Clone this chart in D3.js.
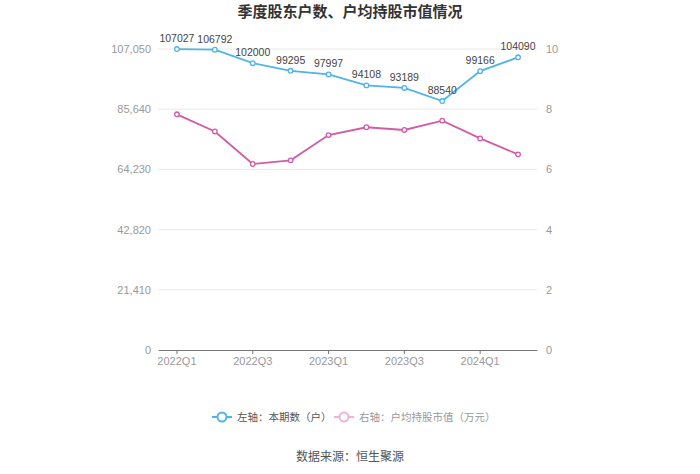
<!DOCTYPE html>
<meta charset="utf-8" />
<html>
<head>
    <style>
        body { margin: 0; background: #fff; font-family: "Microsoft YaHei", "Noto Sans CJK SC", sans-serif; }
        .grid line { stroke: #e9e9e9; }
        .tick text { fill: #999; font-size: 11px; font-family: "Liberation Sans", Arial, sans-serif; }
    </style>
</head>
<body>
    <svg width="700" height="474"></svg>
    <script src="https://d3js.org/d3.v7.min.js"></script>
    <script>
        // data
        var quarters = ["2022Q1", "2022Q2", "2022Q3", "2022Q4", "2023Q1", "2023Q2", "2023Q3", "2023Q4", "2024Q1", "2024Q2"];
        var holders = [107027, 106792, 102000, 99295, 97997, 94108, 93189, 88540, 99166, 104090];
        var avgValue = [7.83, 7.26, 6.18, 6.30, 7.14, 7.40, 7.31, 7.62, 7.03, 6.50];
        var leftTicks = [0, 21410, 42820, 64230, 85640, 107050];
        var rightTicks = [0, 2, 4, 6, 8, 10];
        var xLabels = ["2022Q1", "2022Q3", "2023Q1", "2023Q3", "2024Q1"];

        var blue = "#4fb4e8", pink = "#d35ba6";

        var svg = d3.select("svg");
        var plotLeft = 158, plotRight = 537, plotTop = 49, plotBottom = 350;

        var x = d3.scaleBand().domain(quarters).range([plotLeft, plotRight]);
        var yL = d3.scaleLinear().domain([0, 107050]).range([plotBottom, plotTop]);
        var yR = d3.scaleLinear().domain([0, 10]).range([plotBottom, plotTop]);
        var cx = function (d) { return x(d) + x.bandwidth() / 2; };

        // title
        svg.append("text").attr("x", 350).attr("y", 17).attr("text-anchor", "middle")
            .attr("font-size", 15).attr("font-weight", "bold").attr("fill", "#333")
            .text("季度股东户数、户均持股市值情况");

        // grid
        svg.append("g").attr("class", "grid").selectAll("line")
            .data(leftTicks.slice(1)).enter().append("line")
            .attr("x1", plotLeft).attr("x2", plotRight)
            .attr("y1", function (d) { return yL(d); })
            .attr("y2", function (d) { return yL(d); });

        // left axis
        var gl = svg.append("g").attr("transform", "translate(" + plotLeft + ",0)")
            .call(d3.axisLeft(yL).tickValues(leftTicks).tickSize(0).tickPadding(7).tickFormat(d3.format(",")));
        gl.select(".domain").remove();

        // right axis
        var gr = svg.append("g").attr("transform", "translate(" + plotRight + ",0)")
            .call(d3.axisRight(yR).tickValues(rightTicks).tickSize(0).tickPadding(9));
        gr.select(".domain").remove();

        // bottom axis
        var gb = svg.append("g").attr("transform", "translate(0," + plotBottom + ")")
            .call(d3.axisBottom(x).tickValues(xLabels).tickSizeInner(4).tickSizeOuter(0).tickPadding(3));
        gb.select(".domain").attr("stroke", "#777");
        gb.selectAll(".tick line").attr("stroke", "#777");

        // lines
        var lineL = d3.line().x(function (d, i) { return cx(quarters[i]); }).y(function (d) { return yL(d); });
        var lineR = d3.line().x(function (d, i) { return cx(quarters[i]); }).y(function (d) { return yR(d); });

        svg.append("path").datum(avgValue).attr("d", lineR)
            .attr("fill", "none").attr("stroke", pink).attr("stroke-width", 1.8);
        svg.append("g").selectAll("circle").data(avgValue).enter().append("circle")
            .attr("cx", function (d, i) { return cx(quarters[i]); })
            .attr("cy", function (d) { return yR(d); })
            .attr("r", 2.3).attr("fill", "#fff").attr("stroke", pink).attr("stroke-width", 1.3);

        svg.append("path").datum(holders).attr("d", lineL)
            .attr("fill", "none").attr("stroke", blue).attr("stroke-width", 1.8);
        svg.append("g").selectAll("circle").data(holders).enter().append("circle")
            .attr("cx", function (d, i) { return cx(quarters[i]); })
            .attr("cy", function (d) { return yL(d); })
            .attr("r", 2.3).attr("fill", "#fff").attr("stroke", blue).attr("stroke-width", 1.3);

        // value labels
        svg.append("g").selectAll("text").data(holders).enter().append("text")
            .attr("x", function (d, i) { return cx(quarters[i]); })
            .attr("y", function (d) { return yL(d) - 7; })
            .attr("text-anchor", "middle").attr("font-size", 10.5).attr("fill", "#444")
            .attr("font-family", "'Liberation Sans', Arial, sans-serif")
            .text(function (d) { return d; });

        // legend
        var lg = svg.append("g").attr("transform", "translate(0,417)");
        function legendItem(x0, color, textColor, label) {
            lg.append("line").attr("x1", x0).attr("x2", x0 + 20).attr("stroke", color).attr("stroke-width", 2);
            lg.append("circle").attr("cx", x0 + 10).attr("r", 4.5).attr("fill", "#fff").attr("stroke", color).attr("stroke-width", 2);
            lg.append("text").attr("x", x0 + 25).attr("y", 4).attr("font-size", 10.5).attr("fill", textColor).text(label);
        }
        legendItem(212, blue, "#555", "左轴：本期数（户）");
        legendItem(334, "#efb3d8", "#999", "右轴：户均持股市值（万元）");

        // source
        svg.append("text").attr("x", 350).attr("y", 461).attr("text-anchor", "middle")
            .attr("font-size", 12).attr("fill", "#555").text("数据来源：恒生聚源");
    </script>
</body>
</html>
